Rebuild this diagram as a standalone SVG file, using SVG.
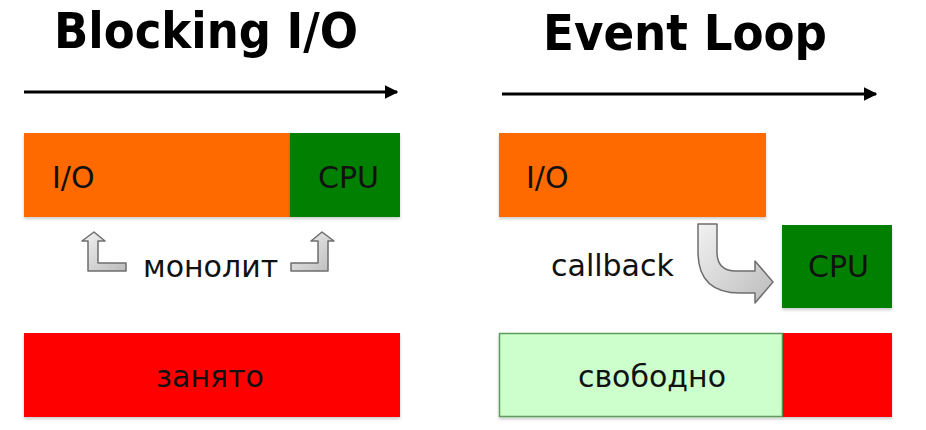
<svg xmlns="http://www.w3.org/2000/svg" width="926" height="430" viewBox="0 0 926 430">
<defs>
<style>
.title{font-family:"DejaVu Sans Condensed","DejaVu Sans","Liberation Sans",sans-serif;font-stretch:condensed;font-weight:bold;font-size:50px;fill:#000}
.lbl{font-family:"DejaVu Sans","Liberation Sans",sans-serif;font-size:30px;fill:#111}
.axis{stroke:#000;stroke-width:3;fill:none}
.garrow{fill:url(#gray);stroke:#6e6e6e;stroke-width:1.5;stroke-linejoin:round}
.bar{filter:url(#shadow)}
</style>
<filter id="shadow" x="-5%" y="-5%" width="110%" height="115%">
<feDropShadow dx="0" dy="2" stdDeviation="1.5" flood-color="#000" flood-opacity="0.2"/>
</filter>
<linearGradient id="gray" x1="0" y1="0" x2="1" y2="1">
<stop offset="0" stop-color="#f2f2f2"/>
<stop offset="1" stop-color="#bcbcbc"/>
</linearGradient>
<marker id="head" viewBox="0 0 10 10" refX="9" refY="5" markerWidth="4.5" markerHeight="4.5" orient="auto" markerUnits="strokeWidth">
<path d="M0,0 L10,5 L0,10 Z" fill="#000"/>
</marker>
</defs>
<rect width="926" height="430" fill="#fff"/>

<g id="title-blocking"><text class="title" x="54" y="48" textLength="304" lengthAdjust="spacingAndGlyphs">Blocking I/O</text></g>
<g id="title-eventloop"><text class="title" x="543" y="50" textLength="284" lengthAdjust="spacingAndGlyphs">Event Loop</text></g>

<g id="connectors">
<line class="axis" x1="24" y1="92" x2="397" y2="92" marker-end="url(#head)"/>
<line class="axis" x1="502" y1="94" x2="876" y2="94" marker-end="url(#head)"/>
<path class="garrow" d="M88,271 L88,241 L82,241 L94,232 L105,241 L98,241 L98,263 L126,263 L126,271 Z"/>
<path class="garrow" d="M328,271 L328,241 L334,241 L322,232 L311,241 L318,241 L318,263 L291,263 L291,271 Z"/>
<path class="garrow" d="M698,224 L717,224 L717,252 Q717,271 736,271 L755,271 L755,261 L773,282 L755,303 L755,293 L740,293 Q698,293 698,252 Z"/>
</g>

<g id="left-io"><rect class="bar" x="24" y="133" width="266" height="84" fill="#ff6a00"/><text class="lbl" x="52" y="188">I/O</text></g>
<g id="left-cpu"><rect class="bar" x="290" y="133" width="110" height="84" fill="#007f00"/><text class="lbl" x="318" y="188">CPU</text></g>
<g id="label-monolit"><text class="lbl" x="143" y="277">монолит</text></g>
<g id="left-busy"><rect class="bar" x="24" y="333" width="376" height="84" fill="#ff0000"/><text class="lbl" x="210" y="387" text-anchor="middle">занято</text></g>

<g id="right-io"><rect class="bar" x="499" y="133" width="267" height="84" fill="#ff6a00"/><text class="lbl" x="526" y="188">I/O</text></g>
<g id="label-callback"><text class="lbl" x="551" y="276">callback</text></g>
<g id="right-cpu"><rect class="bar" x="782" y="225" width="110" height="83" fill="#007f00"/><text class="lbl" x="808" y="277">CPU</text></g>
<g id="right-free"><rect class="bar" x="499.5" y="333.5" width="283" height="83" fill="#ccffcc" stroke="#5c9c5c" stroke-width="1.5"/><text class="lbl" x="652" y="387" text-anchor="middle">свободно</text></g>
<g id="right-busy"><rect class="bar" x="783" y="333" width="109" height="84" fill="#ff0000"/></g>
</svg>
